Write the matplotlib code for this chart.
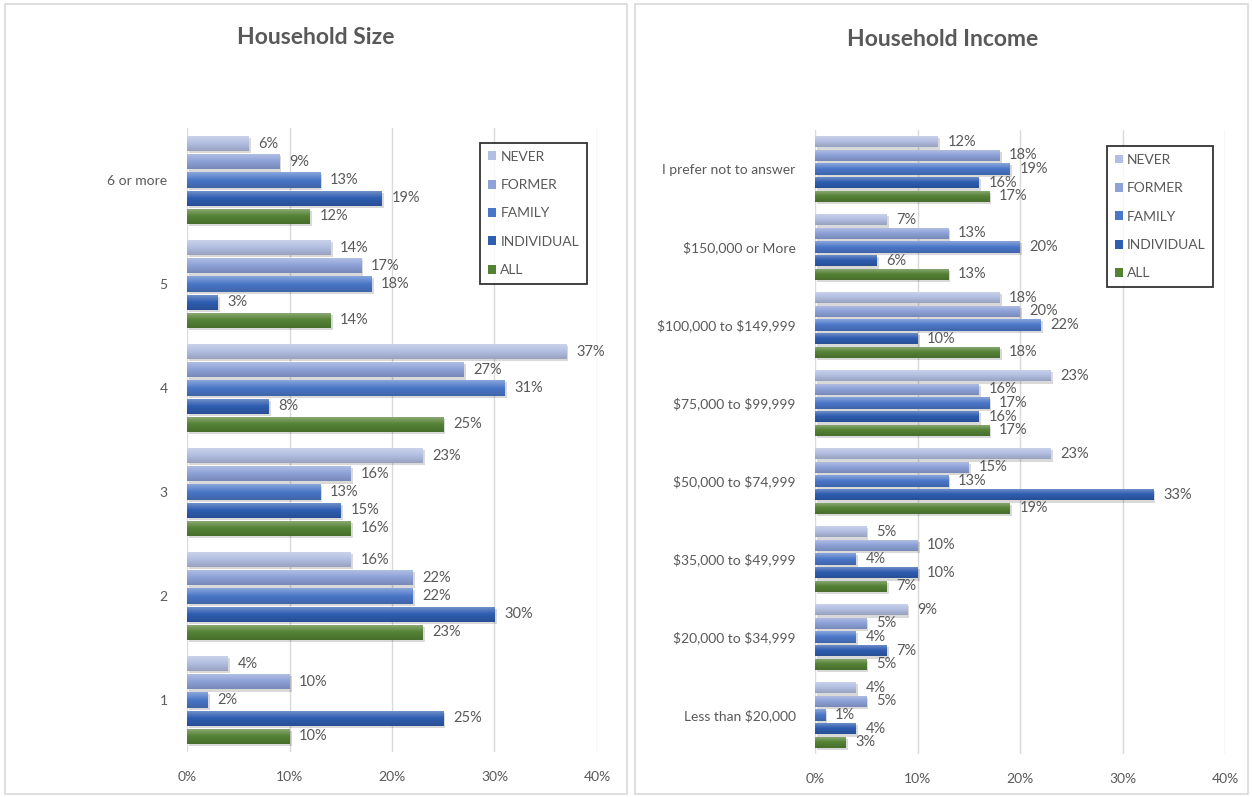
import numpy as np
import matplotlib
matplotlib.use("Agg")
import matplotlib.pyplot as plt
import matplotlib.patheffects as pe
from matplotlib.patches import Patch, Rectangle
from matplotlib.colors import LinearSegmentedColormap, to_rgb

plt.rcParams["font.family"] = ["Lato", "DejaVu Sans"]

series = ["NEVER", "FORMER", "FAMILY", "INDIVIDUAL", "ALL"]

# Household size (bottom to top)
size_categories = ["1", "2", "3", "4", "5", "6 or more"]
size_never = [4, 16, 23, 37, 14, 6]
size_former = [10, 22, 16, 27, 17, 9]
size_family = [2, 22, 13, 31, 18, 13]
size_individual = [25, 30, 15, 8, 3, 19]
size_all = [10, 23, 16, 25, 14, 12]

# Household income (bottom to top)
income_categories = ["Less than $20,000", "$20,000 to $34,999", "$35,000 to $49,999",
                     "$50,000 to $74,999", "$75,000 to $99,999", "$100,000 to $149,999",
                     "$150,000 or More", "I prefer not to answer"]
income_never = [4, 9, 5, 23, 23, 18, 7, 12]
income_former = [5, 5, 10, 15, 16, 20, 13, 18]
income_family = [1, 4, 4, 13, 17, 22, 20, 19]
income_individual = [4, 7, 10, 33, 16, 10, 6, 16]
income_all = [3, 5, 7, 19, 17, 18, 13, 17]

x_ticks = [0, 10, 20, 30, 40]

base_colors = ["#b3bfe2", "#8ea2d8", "#4a76c8", "#2f5db0", "#548235"]
TEXT = "#595959"
GRID = "#d9d9d9"


def mix(c, target, t):
    c = np.array(to_rgb(c))
    target = np.array(to_rgb(target))
    return tuple(c + (target - c) * t)


def gradient_cmap(c):
    return LinearSegmentedColormap.from_list(
        "g", [mix(c, "white", 0.35), to_rgb(c), mix(c, "black", 0.15)])


GRAD = np.linspace(0, 1, 48).reshape(-1, 1)


def draw_panel(ax, categories, values, legend_anchor):
    n = len(categories)
    y = np.arange(n)
    step = 0.175
    height = 0.148
    offsets = [2 * step, step, 0, -step, -2 * step]
    for vals, off, col, name in zip(values, offsets, base_colors, series):
        bars = ax.barh(y + off, vals, height=height, color=col, zorder=3, label=name,
                       path_effects=[pe.SimplePatchShadow(offset=(1.5, -1.5),
                                                          shadow_rgbFace="black", alpha=0.15),
                                     pe.Normal()])
        cmap = gradient_cmap(col)
        for rect, v in zip(bars.patches, vals):
            x0, y0 = rect.get_x(), rect.get_y()
            w, h = rect.get_width(), rect.get_height()
            im = ax.imshow(GRAD, cmap=cmap, aspect="auto", origin="upper",
                           extent=[x0, x0 + w, y0, y0 + h], zorder=4,
                           interpolation="bilinear")
            im.set_clip_path(rect)
            ax.annotate(f"{v}%", (x0 + w, y0 + h / 2), xytext=(7, 0),
                        textcoords="offset points", va="center", ha="left",
                        fontsize=10.5, color=TEXT, zorder=5)

    ax.set_xlim(0, 40)
    ax.set_ylim(-0.5, n - 0.5)
    ax.set_xticks(x_ticks)
    ax.set_xticklabels([f"{t}%" for t in x_ticks])
    ax.set_yticks(y)
    ax.set_yticklabels([c.replace("$", r"\$") for c in categories])
    ax.tick_params(axis="both", length=0, labelsize=10, labelcolor=TEXT)
    ax.tick_params(axis="y", pad=14)
    ax.tick_params(axis="x", pad=14)
    ax.grid(axis="x", color=GRID, lw=1)
    ax.set_axisbelow(True)
    for s in ax.spines.values():
        s.set_visible(False)

    handles = [Patch(facecolor=c, edgecolor="none") for c in base_colors]
    leg = ax.legend(handles, series, loc="upper left", bbox_to_anchor=legend_anchor,
                    fontsize=10, labelcolor=TEXT, frameon=True, fancybox=False,
                    handlelength=0.6, handleheight=0.6, handletextpad=0.3,
                    labelspacing=1.18, borderpad=0.55, borderaxespad=0)
    leg.get_frame().set_edgecolor("black")
    leg.get_frame().set_linewidth(1.3)
    leg.set_zorder(10)


W, H = 1252, 797
fig = plt.figure(figsize=(W / 100, H / 100), dpi=100)
fig.patch.set_facecolor("white")

# panel frames
fig.add_artist(Rectangle((5 / W, 3 / H), 622 / W, 790 / H, transform=fig.transFigure,
                         fill=False, edgecolor=GRID, lw=1.2))
fig.add_artist(Rectangle((635 / W, 3 / H), 613 / W, 790 / H, transform=fig.transFigure,
                         fill=False, edgecolor=GRID, lw=1.2))

ax1 = fig.add_axes([187 / W, (H - 752) / H, 410 / W, 624 / H])
ax2 = fig.add_axes([815 / W, (H - 754) / H, 410 / W, 624 / H])

draw_panel(ax1, size_categories,
           [size_never, size_former, size_family, size_individual, size_all],
           (0.715, 0.976))
draw_panel(ax2, income_categories,
           [income_never, income_former, income_family, income_individual, income_all],
           (0.712, 0.974))

fig.text(316 / W, 1 - 37 / H, "Household Size", ha="center", va="center",
         fontsize=16.5, fontweight="bold", color=TEXT)
fig.text(943 / W, 1 - 40 / H, "Household Income", ha="center", va="center",
         fontsize=16.5, fontweight="bold", color=TEXT)

fig.savefig("out.png", dpi=100, facecolor="white")
